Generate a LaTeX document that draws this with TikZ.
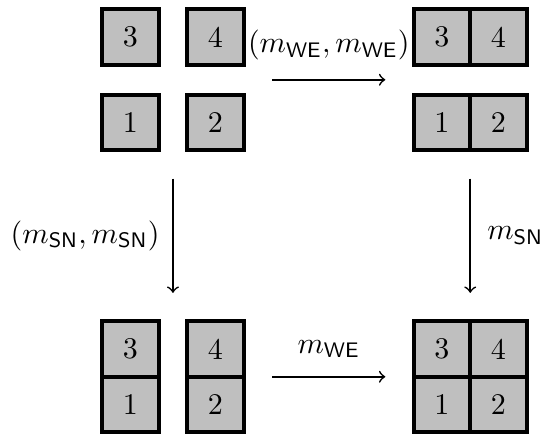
\documentclass[tikz,border=0pt]{standalone}
\usetikzlibrary{fit}
\begin{document}
\begin{tikzpicture}[x=0.333pt,y=-0.333pt,
  cell/.style={draw=black, fill=gray!50, line width=1.33pt, minimum width=18.8pt, minimum height=18.48pt, inner sep=0pt},
  grp/.style={inner sep=0pt, draw=none},
  mor/.style={->, line width=0.55pt, shorten <=8.6pt, shorten >=8.6pt},
  lbl/.style={inner sep=0pt}]
\useasboundingbox (0,0) rectangle (541,434);
% top left: four separate cells
\node[cell] (tl3) at (130.4,37) {3};
\node[cell] (tl4) at (215.5,37) {4};
\node[cell] (tl1) at (130.4,122.5) {1};
\node[cell] (tl2) at (215.5,122.5) {2};
% top right: two horizontal pairs
\node[cell] (tr3) at (442,37) {3};
\node[cell] (tr4) at (498.5,37) {4};
\node[cell] (tr1) at (442,122.5) {1};
\node[cell] (tr2) at (498.5,122.5) {2};
% bottom left: two vertical pairs
\node[cell] (bl3) at (130.4,349) {3};
\node[cell] (bl1) at (130.4,404.5) {1};
\node[cell] (bl4) at (215.5,349) {4};
\node[cell] (bl2) at (215.5,404.5) {2};
% bottom right: 2x2 block
\node[cell] (br3) at (442,349) {3};
\node[cell] (br4) at (498.5,349) {4};
\node[cell] (br1) at (442,404.5) {1};
\node[cell] (br2) at (498.5,404.5) {2};
% groups
\node[grp, fit=(tl3)(tl2)] (gTL) {};
\node[grp, fit=(tr3)(tr2)] (gTR) {};
\node[grp, fit=(bl3)(bl2)] (gBL) {};
\node[grp, fit=(br3)(br2)] (gBR) {};
% morphisms
\draw[mor] (gTL) -- node[lbl, midway, anchor=base, yshift=9.0pt] (lTop) {$(m_{\mathsf{WE}},m_{\mathsf{WE}})$} (gTR);
\draw[mor] (gBL) -- node[lbl, midway, anchor=base, yshift=7.8pt] (lBot) {$m_{\mathsf{WE}}$} (gBR);
\draw[mor] (gTL) -- node[lbl, midway, left=4.2pt] (lLeft) {$(m_{\mathsf{SN}},m_{\mathsf{SN}})$} (gBL);
\draw[mor] (gTR) -- node[lbl, midway, right=5.4pt] (lRight) {$m_{\mathsf{SN}}$} (gBR);
\end{tikzpicture}
\end{document}
